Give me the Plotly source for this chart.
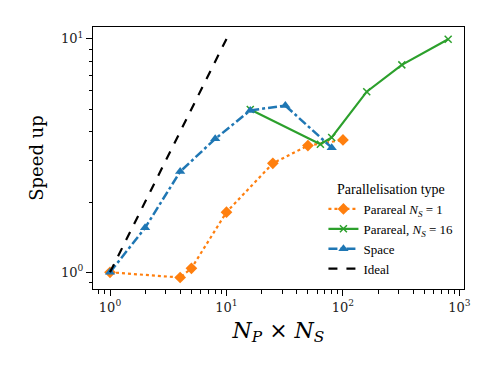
import plotly.graph_objects as go

# Data
ideal_x = [1, 10]
ideal_y = [1, 10]

par1_x = [1, 4, 5, 10, 25, 50, 100]
par1_y = [1.0, 0.95, 1.04, 1.81, 2.93, 3.49, 3.69]

par16_x = [16, 64, 80, 160, 320, 800]
par16_y = [4.98, 3.54, 3.78, 5.94, 7.74, 9.97]

space_x = [1, 2, 4, 8, 16, 32, 80]
space_y = [1.0, 1.55, 2.70, 3.73, 4.94, 5.18, 3.42]

series_names = ["Parareal <i>N</i><sub><i>S</i></sub> = 1",
                "Parareal, <i>N</i><sub><i>S</i></sub> = 16",
                "Space", "Ideal"]

x_major = [1, 10, 100, 1000]
x_major_text = ["10<sup>0</sup>", "10<sup>1</sup>", "10<sup>2</sup>", "10<sup>3</sup>"]
x_minor = [0.8, 0.9] + [m * d for d in (1, 10, 100) for m in range(2, 10)]
y_major = [1, 10]
y_major_text = ["10<sup>0</sup>", "10<sup>1</sup>"]
y_minor = [0.9] + list(range(2, 10))

X_RANGE = [-0.146, 3.039]
Y_RANGE = [-0.0716, 1.051]

FONT = "DejaVu Serif, serif"
FONT2 = "Liberation Serif, serif"

fig = go.Figure()
fig.add_trace(go.Scatter(x=par1_x, y=par1_y, mode="lines+markers", name=series_names[0],
                         line=dict(color="#ff7f0e", width=2.2, dash="dot"),
                         marker=dict(symbol="diamond", size=9, color="#ff7f0e")))
fig.add_trace(go.Scatter(x=par16_x, y=par16_y, mode="lines+markers", name=series_names[1],
                         line=dict(color="#2ca02c", width=2.2),
                         marker=dict(symbol="x-thin", size=7, color="#2ca02c",
                                     line=dict(color="#2ca02c", width=1.5))))
fig.add_trace(go.Scatter(x=space_x, y=space_y, mode="lines+markers", name=series_names[2],
                         line=dict(color="#1f77b4", width=2.5, dash="dashdot"),
                         marker=dict(symbol="triangle-up", size=9, color="#1f77b4")))
fig.add_trace(go.Scatter(x=ideal_x, y=ideal_y, mode="lines", name=series_names[3],
                         line=dict(color="black", width=2.2, dash="dash")))
# invisible trace to carry the minor-tick overlay axes
fig.add_trace(go.Scatter(x=[1], y=[1], xaxis="x2", yaxis="y2", mode="markers",
                         marker=dict(opacity=0), showlegend=False, hoverinfo="skip"))

axis_common = dict(type="log", showgrid=False, zeroline=False, showline=True,
                   linecolor="black", linewidth=1.3, mirror=True,
                   ticks="outside", ticklen=6, tickwidth=1.2, tickcolor="black",
                   tickmode="array",
                   tickfont=dict(family=FONT, size=13, color="#222"))

fig.update_layout(
    xaxis=dict(**axis_common, range=X_RANGE, tickvals=x_major, ticktext=x_major_text,
               title=dict(text="<i>N</i><sub><i>P</i></sub> × <i>N</i><sub><i>S</i></sub>",
                          font=dict(family=FONT, size=22, color="black"), standoff=8)),
    yaxis=dict(**axis_common, range=Y_RANGE, tickvals=y_major, ticktext=y_major_text,
               title=dict(text="Speed up", font=dict(family=FONT, size=18, color="black"),
                          standoff=12)),
    xaxis2=dict(type="log", range=X_RANGE, overlaying="x", anchor="y", side="bottom",
                tickmode="array", tickvals=x_minor, showticklabels=False,
                ticks="outside", ticklen=3.5, tickwidth=1, tickcolor="black",
                showgrid=False, zeroline=False, showline=False),
    yaxis2=dict(type="log", range=Y_RANGE, overlaying="y", anchor="x", side="left",
                tickmode="array", tickvals=y_minor, showticklabels=False,
                ticks="outside", ticklen=3.5, tickwidth=1, tickcolor="black",
                showgrid=False, zeroline=False, showline=False),
    width=495, height=383,
    margin=dict(l=93, r=31, t=27, b=94),
    paper_bgcolor="white", plot_bgcolor="white",
    font=dict(family=FONT2, color="black"),
    legend=dict(x=0.985, y=0.02, xanchor="right", yanchor="bottom",
                bgcolor="rgba(255,255,255,0.8)",
                title=dict(text="Parallelisation type", side="top center",
                           font=dict(family=FONT2, size=14)),
                font=dict(family=FONT2, size=13), tracegroupgap=0, itemwidth=30),
)

fig.write_html("out.html")
